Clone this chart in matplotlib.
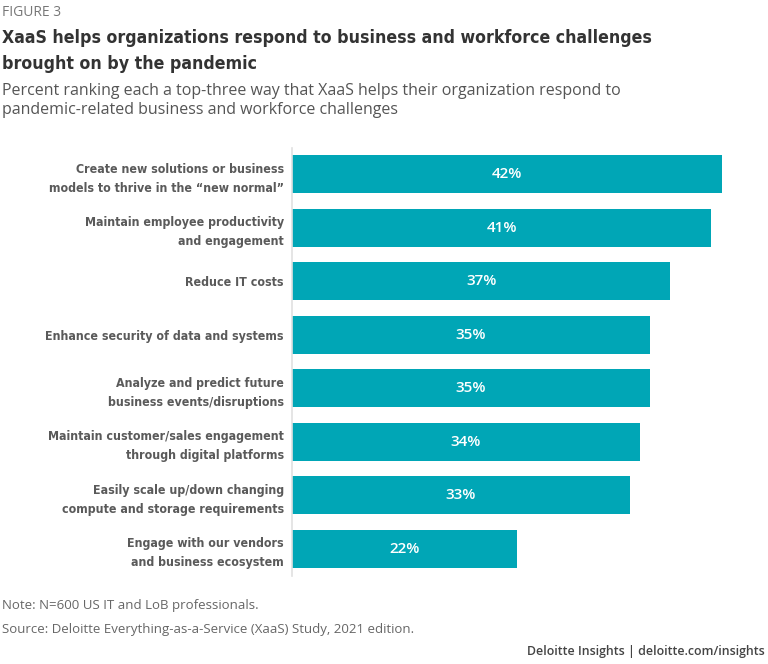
import matplotlib.pyplot as plt
import numpy as np

categories = [
    "Create new solutions or business\nmodels to thrive in the \u201cnew normal\u201d",
    "Maintain employee productivity\nand engagement",
    "Reduce IT costs",
    "Enhance security of data and systems",
    "Analyze and predict future\nbusiness events/disruptions",
    "Maintain customer/sales engagement\nthrough digital platforms",
    "Easily scale up/down changing\ncompute and storage requirements",
    "Engage with our vendors\nand business ecosystem",
]
values = [42, 41, 37, 35, 35, 34, 33, 22]

bar_color = "#00A6B6"
narrow = ["DejaVu Sans"]
body = ["Open Sans", "DejaVu Sans"]

fig = plt.figure(figsize=(7.68, 6.64), dpi=100)
ax = fig.add_axes([292 / 768, 1 - 575.5 / 664, 450 / 768, 428 / 664])

y = np.arange(len(categories))
ax.barh(y, values, height=0.71, color=bar_color)
for yi, v in zip(y, values):
    ax.text(v / 2, yi, f"{v}%", ha="center", va="center", color="white",
            fontsize=11, fontweight="semibold", family=body)

ax.set_xlim(0, 44)
ax.set_ylim(len(categories) - 0.5, -0.5)
ax.set_yticks(y)
ax.set_yticklabels(categories, family=narrow, fontstretch="condensed", fontsize=8.9,
                   fontweight="bold", color="#5a5a5a", linespacing=1.6)
ax.tick_params(axis="y", length=0, pad=6)
ax.set_xticks([])
for s in ["top", "right", "bottom"]:
    ax.spines[s].set_visible(False)
ax.spines["left"].set_color("#e0e0e0")
ax.spines["left"].set_linewidth(1.2)

fig.text(0.002, 1 - 12 / 664, "FIGURE 3", family=body, fontsize=10,
         color="#777777", va="center", ha="left")
fig.text(0.002, 1 - 38 / 664, "XaaS helps organizations respond to business and workforce challenges",
         family=narrow, fontstretch="condensed", fontsize=12.7, fontweight="bold",
         color="#333333", va="center")
fig.text(0.002, 1 - 64 / 664, "brought on by the pandemic",
         family=narrow, fontstretch="condensed", fontsize=12.7, fontweight="bold",
         color="#333333", va="center")
fig.text(0.002, 1 - 91 / 664,
         "Percent ranking each a top-three way that XaaS helps their organization respond to",
         family=body, fontsize=11.5, color="#555555", va="center")
fig.text(0.002, 1 - 110 / 664, "pandemic-related business and workforce challenges",
         family=body, fontsize=11.5, color="#555555", va="center")

fig.text(0.002, 1 - 606 / 664, "Note: N=600 US IT and LoB professionals.",
         family=body, fontsize=9.5, color="#666666", va="center")
fig.text(0.002, 1 - 629 / 664, "Source: Deloitte Everything-as-a-Service (XaaS) Study, 2021 edition.",
         family=body, fontsize=9.5, color="#666666", va="center")
fig.text(765 / 768, 1 - 651 / 664, "Deloitte Insights | deloitte.com/insights",
         family=body, fontsize=8.9, fontweight="semibold", color="#444444",
         va="center", ha="right")

fig.savefig("out.png", dpi=100)
